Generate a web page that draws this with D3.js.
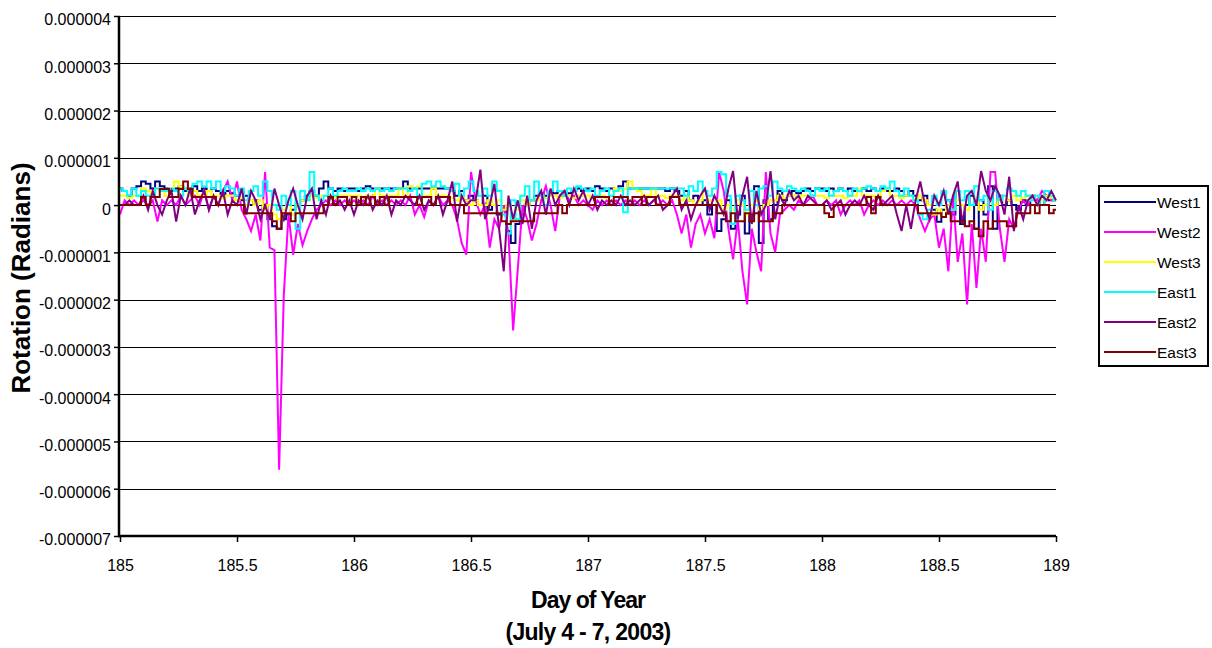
<!DOCTYPE html>
<html><head><meta charset="utf-8">
<script src="https://cdn.jsdelivr.net/npm/d3@7"></script>
<style>
body{margin:0;background:#fff;}
svg{display:block;font-family:"Liberation Sans",Arial,sans-serif;}
</style>
</head><body>
<svg id="chart" width="1212" height="648"></svg>
<script>
// ---- data (values in micro-radians, sampled every 0.02 day starting day 185) ----
const seriesNames = ["West1","West2","West3","East1","East2","East3"];
const seriesColors = ["#000080","#FF00FF","#FFFF00","#00FFFF","#800080","#800000"];
const sampleStartDay = 185;
const sampleStepDay = 0.02;

const west1 = [
0.35,0.3,0.2,0.35,0.4,0.5,0.45,0.35,0.5,0.4,
0.35,0.3,0.35,0.4,0.3,0.35,0.4,0.3,0.35,0.3,
0.35,0.3,0.2,0.3,0.25,0.2,0.1,0.2,0.0,0.1,
-0.1,0.0,-0.3,-0.45,-0.5,-0.3,-0.2,-0.1,0.0,0.1,
0.2,0.3,0.2,0.35,0.5,0.35,0.3,0.35,0.3,0.35,
0.35,0.3,0.35,0.4,0.35,0.35,0.35,0.35,0.35,0.35,
0.35,0.5,0.35,0.35,0.35,0.35,0.35,0.35,0.35,0.35,
0.35,0.3,0.2,0.3,0.1,0.2,0.1,0.0,0.2,-0.1,
0.0,-0.2,-0.1,-0.55,-0.8,-0.4,-0.2,0.0,0.1,0.2,
0.25,0.2,0.3,0.25,0.3,0.2,0.25,0.3,0.35,0.3,
0.35,0.3,0.4,0.35,0.3,0.35,0.3,0.4,0.5,0.35,
0.35,0.35,0.35,0.35,0.35,0.35,0.35,0.3,0.35,0.3,
0.2,0.3,0.1,0.2,0.0,0.1,-0.2,0.0,-0.55,-0.3,
0.1,-0.5,-0.2,0.2,-0.6,-0.2,0.4,-0.8,0.1,-0.3,
0.0,0.3,0.1,0.2,0.3,0.25,0.3,0.35,0.3,0.35,
0.35,0.3,0.35,0.3,0.35,0.3,0.35,0.3,0.3,0.35,
0.3,0.35,0.3,0.35,0.3,0.3,0.35,0.3,0.2,0.3,
0.2,0.1,0.2,0.0,-0.1,-0.35,-0.1,0.1,-0.2,0.3,
-0.4,0.0,0.2,-0.5,0.1,-0.2,0.4,-0.5,0.2,0.0,
0.1,0.0,-0.1,0.1,0.0,0.2,0.1,0.0,0.2,0.1,
0.1];

const west2 = [
-0.2,0.1,0.0,0.1,0.0,0.1,0.0,0.1,-0.35,0.1,
0.0,0.1,0.0,0.2,0.0,0.1,0.2,0.0,0.3,-0.1,
0.2,0.0,0.3,0.5,0.1,0.5,-0.1,-0.3,-0.55,-0.2,
-0.75,0.7,-0.9,-0.95,-5.6,-1.9,-0.2,-1.05,-0.4,-0.85,
-0.55,-0.3,-0.1,0.0,0.1,0.0,0.1,0.0,0.1,0.0,
0.1,0.0,0.1,0.0,0.2,0.0,0.1,0.0,0.1,0.0,
0.1,0.0,0.2,-0.2,0.0,-0.25,0.1,0.0,0.2,0.0,
0.1,0.0,-0.3,-0.8,-1.05,0.7,0.1,-0.2,0.0,-0.9,
-0.3,-0.5,0.0,-0.6,-2.65,-1.35,0.0,-0.3,-0.75,-0.4,
0.1,0.4,0.0,-0.55,0.2,0.3,0.1,0.2,0.0,0.1,
0.0,-0.1,0.1,0.0,0.1,0.0,0.1,0.0,0.1,0.0,
0.1,0.0,0.1,0.0,0.1,0.0,0.1,0.0,0.1,-0.2,
-0.6,-0.2,-0.9,-0.4,-0.2,-0.6,-0.3,-0.7,0.7,0.3,
-0.5,-1.15,-0.3,-1.4,-2.1,-0.5,-1.0,-1.4,0.7,-0.6,
-1.0,-0.2,-0.1,0.0,-0.1,0.1,0.0,0.1,0.2,0.0,
0.0,0.1,0.0,0.1,-0.2,0.0,0.1,0.0,0.1,-0.2,
0.0,0.1,0.0,0.1,0.0,0.1,0.0,0.1,0.0,0.1,
0.0,-0.3,-0.55,-0.3,-0.2,-0.9,-0.5,-1.4,0.2,-1.2,
-0.6,-2.1,-0.4,-1.75,-0.5,-1.2,0.7,0.7,-0.5,-1.2,
-0.3,-0.5,-0.1,0.1,0.0,0.2,0.1,0.3,0.2,0.1,
0.1];

const west3 = [
0.2,0.2,0.15,0.2,0.2,0.35,0.3,0.2,0.35,0.3,
0.2,0.35,0.5,0.4,0.35,0.2,0.3,0.2,0.2,0.3,
0.2,0.2,0.15,0.2,0.2,0.1,0.15,0.0,0.1,0.0,
0.1,-0.1,0.0,-0.2,-0.3,-0.1,0.0,-0.2,0.0,0.1,
0.1,0.2,0.15,0.2,0.2,0.2,0.15,0.2,0.2,0.2,
0.2,0.2,0.15,0.2,0.2,0.35,0.2,0.2,0.2,0.2,
0.35,0.2,0.4,0.35,0.4,0.2,0.2,0.35,0.2,0.2,
0.2,0.15,0.1,0.2,0.1,0.0,0.1,0.0,0.0,0.1,
0.0,0.1,-0.1,0.0,-0.3,-0.1,0.1,0.0,0.1,0.1,
0.2,0.15,0.2,0.2,0.15,0.2,0.2,0.15,0.2,0.2,
0.2,0.15,0.2,0.2,0.15,0.2,0.35,0.3,0.35,0.5,
0.35,0.3,0.2,0.2,0.35,0.2,0.2,0.15,0.2,0.2,
0.1,0.2,0.1,0.0,0.1,0.3,0.1,0.0,0.1,-0.1,
0.0,-0.1,0.1,0.0,-0.2,0.0,0.1,-0.1,0.0,0.1,
0.1,0.2,0.15,0.2,0.2,0.15,0.2,0.2,0.2,0.2,
0.2,0.15,0.2,0.2,0.2,0.15,0.2,0.2,0.35,0.2,
0.2,0.2,0.15,0.3,0.35,0.2,0.2,0.15,0.2,0.2,
0.1,0.2,0.1,0.0,-0.2,-0.1,-0.25,0.0,-0.1,0.1,
0.0,-0.1,0.0,0.1,-0.1,0.0,0.1,0.0,0.1,0.2,
0.1,0.2,0.1,0.15,0.2,0.1,0.2,0.1,0.2,0.15,
0.1];

const east1 = [
0.35,0.3,0.2,0.35,0.2,0.3,0.2,0.2,0.35,0.3,
0.3,0.35,0.3,0.2,0.35,0.3,0.45,0.5,0.4,0.5,
0.35,0.5,0.3,0.4,0.35,0.2,0.35,0.1,0.3,0.4,
0.2,0.5,0.3,0.0,-0.1,0.2,0.0,0.3,-0.5,0.3,
0.1,0.7,0.2,0.1,0.2,0.35,0.2,0.3,0.35,0.3,
0.3,0.35,0.3,0.35,0.3,0.35,0.3,0.35,0.3,0.35,
0.35,0.35,0.3,0.35,0.2,0.45,0.5,0.4,0.5,0.4,
0.35,0.3,0.45,0.2,0.35,0.5,0.3,0.2,0.35,0.2,
0.5,0.3,-0.2,-0.6,0.1,-0.3,0.2,0.4,0.1,0.5,
0.2,0.0,0.3,0.5,0.3,0.2,0.35,0.3,0.4,0.35,
0.3,0.35,0.2,0.3,0.35,0.2,0.3,0.35,-0.15,0.35,
0.35,0.35,0.35,0.35,0.35,0.35,0.35,0.35,0.35,0.35,
0.35,0.2,0.4,0.3,0.5,0.3,0.2,0.35,0.7,0.65,
0.2,-0.4,0.2,0.1,-0.1,0.3,0.0,0.35,0.4,0.2,
0.5,0.35,0.3,0.4,0.35,0.3,0.35,0.3,0.2,0.35,
0.3,0.35,0.2,0.3,0.35,0.3,0.2,0.35,0.3,0.35,
0.4,0.35,0.3,0.4,0.35,0.5,0.3,0.2,0.35,0.2,
0.1,-0.2,-0.3,-0.1,0.2,0.0,0.3,0.1,-0.1,0.3,
0.1,0.3,0.0,0.4,0.1,0.2,-0.1,0.3,0.1,0.2,
0.35,0.3,0.2,0.3,0.2,0.1,0.2,0.0,0.3,0.2,
0.1];

const east2 = [
0.0,0.0,0.1,0.0,0.0,0.2,-0.1,0.3,0.0,-0.2,
0.1,0.3,-0.35,0.2,0.0,0.35,-0.2,0.1,0.3,-0.1,
0.2,0.0,0.3,-0.2,0.1,0.0,0.35,-0.2,0.3,0.1,
-0.3,0.0,-0.3,0.35,0.0,-0.3,0.1,0.35,0.0,-0.3,
0.2,0.35,-0.3,0.1,-0.2,0.2,0.0,0.1,-0.1,0.1,
-0.2,0.1,0.0,0.2,-0.1,0.1,0.0,0.2,-0.2,0.1,
0.0,0.2,0.1,0.0,0.2,-0.1,0.1,0.0,0.2,-0.2,
0.1,0.5,-0.35,0.2,0.0,0.1,0.1,0.75,-0.3,0.0,
0.45,-0.5,-1.4,0.2,-0.3,0.1,-0.4,0.2,-0.5,0.1,
0.3,-0.2,0.35,0.0,0.2,0.3,0.0,0.35,0.1,0.3,
0.0,0.2,-0.1,0.1,0.0,0.1,0.0,0.2,0.0,0.1,
0.0,0.1,0.2,0.0,0.1,0.2,-0.1,0.0,0.2,0.35,
-0.1,0.1,-0.3,0.0,0.2,0.35,-0.1,0.2,0.0,-0.2,
0.35,0.72,-0.3,0.2,0.6,-0.4,0.3,-0.2,0.0,0.72,
-0.3,0.2,0.0,0.3,0.1,0.2,0.0,0.2,0.1,0.0,
0.0,0.1,-0.1,0.0,0.1,-0.2,0.0,0.1,0.0,0.2,
0.0,-0.1,0.2,0.0,0.1,0.2,-0.2,-0.55,0.0,-0.5,
0.1,0.5,0.0,-0.3,0.2,0.0,0.3,-0.2,0.2,0.5,
-0.4,0.2,0.3,0.0,0.72,0.3,0.1,0.4,0.2,-0.2,
0.6,-0.55,0.0,-0.3,0.1,0.2,0.0,0.2,0.1,0.3,
0.1];

const east3 = [
0.0,0.0,0.0,0.0,0.0,0.17,0.0,0.17,0.17,0.34,
0.34,0.17,0.17,0.34,0.5,0.34,0.17,0.17,0.17,0.17,
0.17,0.0,0.0,0.0,0.0,0.0,0.0,-0.17,-0.17,-0.17,
-0.17,-0.17,-0.17,-0.34,-0.5,-0.17,-0.17,-0.34,-0.17,-0.17,
-0.17,-0.17,-0.17,-0.17,0.0,0.17,0.0,0.17,0.17,0.0,
0.17,0.0,0.17,0.0,0.17,0.0,0.17,0.0,0.17,0.17,
0.17,0.17,0.17,0.17,0.0,0.17,0.17,0.0,0.17,0.17,
0.17,0.0,0.0,0.0,-0.17,-0.17,-0.17,-0.17,-0.17,-0.17,
-0.17,-0.17,-0.34,-0.4,-0.34,-0.34,-0.34,-0.34,-0.34,-0.17,
-0.17,-0.17,-0.17,-0.17,0.0,-0.17,0.0,0.0,0.0,0.0,
0.0,0.0,0.17,0.17,0.17,0.0,0.17,0.17,0.17,0.0,
0.17,0.17,0.0,0.17,0.17,0.0,0.0,0.0,0.17,0.17,
0.0,0.0,0.0,0.0,0.0,0.0,0.0,0.0,-0.17,-0.17,
-0.34,-0.17,-0.34,-0.34,-0.17,-0.34,-0.17,-0.34,-0.34,-0.34,
-0.17,-0.17,0.0,0.0,0.0,0.0,0.0,0.0,0.0,0.0,
0.0,-0.17,-0.25,0.0,0.0,0.0,0.0,0.0,0.0,0.0,
0.17,-0.17,0.17,0.0,0.0,0.0,0.0,0.0,0.0,0.0,
0.0,-0.17,-0.17,-0.17,-0.17,-0.17,-0.25,-0.17,-0.34,-0.34,
-0.34,-0.45,-0.34,-0.5,-0.66,-0.34,-0.5,-0.34,-0.34,-0.34,
-0.45,-0.45,-0.17,-0.17,-0.17,0.0,-0.17,0.0,0.0,-0.17,
-0.1];

const xTickValues = [185,185.5,186,186.5,187,187.5,188,188.5,189];
const xTickLabels = ["185","185.5","186","186.5","187","187.5","188","188.5","189"];
const yTickValues = [4,3,2,1,0,-1,-2,-3,-4,-5,-6,-7];
const yTickLabels = ["0.000004","0.000003","0.000002","0.000001","0","-0.000001","-0.000002","-0.000003","-0.000004","-0.000005","-0.000006","-0.000007"];
const xTitle = "Day of Year";
const xSubTitle = "(July 4 - 7, 2003)";
const yTitle = "Rotation (Radians)";

// ---- drawing ----
const seriesValues = [west1, west2, west3, east1, east2, east3];
const stepped = [true, false, true, true, false, true];

const svg = d3.select("#chart");
const plot = {left:120, right:1056, top:16, bottom:536};
const x = d3.scaleLinear().domain([185,189]).range([plot.left, plot.right]);
const y = d3.scaleLinear().domain([-7,4]).range([plot.bottom, plot.top]);

// gridlines
svg.append("g").selectAll("line").data(yTickValues.filter(v => v > -7)).join("line")
  .attr("x1", plot.left).attr("x2", plot.right)
  .attr("y1", d => Math.round(y(d)) + 0.5).attr("y2", d => Math.round(y(d)) + 0.5)
  .attr("stroke", "#000").attr("stroke-width", 1);

// series
const gSeries = svg.append("g");
seriesValues.forEach((vals, k) => {
  const pts = vals.map((v, i) => [sampleStartDay + i * sampleStepDay, v]);
  const line = d3.line().x(d => x(d[0])).y(d => y(d[1]))
    .curve(stepped[k] ? d3.curveStep : d3.curveLinear);
  gSeries.append("path").datum(pts)
    .attr("fill", "none").attr("stroke", seriesColors[k])
    .attr("stroke-width", 2).attr("stroke-linejoin", "miter")
    .attr("d", line);
});

// axes
const yAxis = d3.axisLeft(y).tickValues(yTickValues)
  .tickFormat((d, i) => yTickLabels[i]).tickSize(6).tickSizeOuter(0).tickPadding(3);
const gy = svg.append("g").attr("transform", `translate(${plot.left},0)`).call(yAxis);
gy.select(".domain").remove();
gy.selectAll(".tick line").attr("stroke", "#000").attr("stroke-width", 1.5);
gy.selectAll("text").attr("font-size", 16).attr("fill", "#000")
  .attr("font-family", '"Liberation Sans",Arial,sans-serif').attr("dy", "0.56em");

const xAxis = d3.axisBottom(x).tickValues(xTickValues)
  .tickFormat((d, i) => xTickLabels[i]).tickSize(6).tickSizeOuter(0).tickPadding(18);
const gx = svg.append("g").attr("transform", `translate(0,${plot.bottom})`).call(xAxis);
gx.select(".domain").remove();
gx.selectAll(".tick line").attr("stroke", "#000").attr("stroke-width", 1.5);
gx.selectAll("text").attr("font-size", 16).attr("fill", "#000")
  .attr("font-family", '"Liberation Sans",Arial,sans-serif');

// axis lines
svg.append("line").attr("x1", plot.left - 1).attr("x2", plot.left - 1)
  .attr("y1", plot.top).attr("y2", plot.bottom + 1)
  .attr("stroke", "#000").attr("stroke-width", 2.5);
svg.append("line").attr("x1", plot.left - 2).attr("x2", plot.right)
  .attr("y1", plot.bottom).attr("y2", plot.bottom)
  .attr("stroke", "#000").attr("stroke-width", 2.5);

// titles
svg.append("text").attr("x", (plot.left + plot.right) / 2).attr("y", 608)
  .attr("text-anchor", "middle").attr("font-size", 23).attr("font-weight", "bold")
  .attr("letter-spacing", "-1px").text(xTitle);
svg.append("text").attr("x", (plot.left + plot.right) / 2).attr("y", 640)
  .attr("text-anchor", "middle").attr("font-size", 23).attr("font-weight", "bold")
  .attr("letter-spacing", "-0.7px").text(xSubTitle);
svg.append("text").attr("transform", "translate(30,278) rotate(-90)")
  .attr("text-anchor", "middle").attr("font-size", 26).attr("font-weight", "bold")
  .text(yTitle);

// legend
const lg = svg.append("g");
lg.append("rect").attr("x", 1099).attr("y", 186).attr("width", 109).attr("height", 180)
  .attr("fill", "#fff").attr("stroke", "#000").attr("stroke-width", 2);
seriesNames.forEach((name, k) => {
  const ly = 202 + k * 30;
  lg.append("line").attr("x1", 1104).attr("x2", 1156).attr("y1", ly).attr("y2", ly)
    .attr("stroke", seriesColors[k]).attr("stroke-width", 2);
  lg.append("text").attr("x", 1157).attr("y", ly + 5.5).attr("font-size", 15.5)
    .attr("fill", "#000").text(name);
});
</script>
</body></html>
